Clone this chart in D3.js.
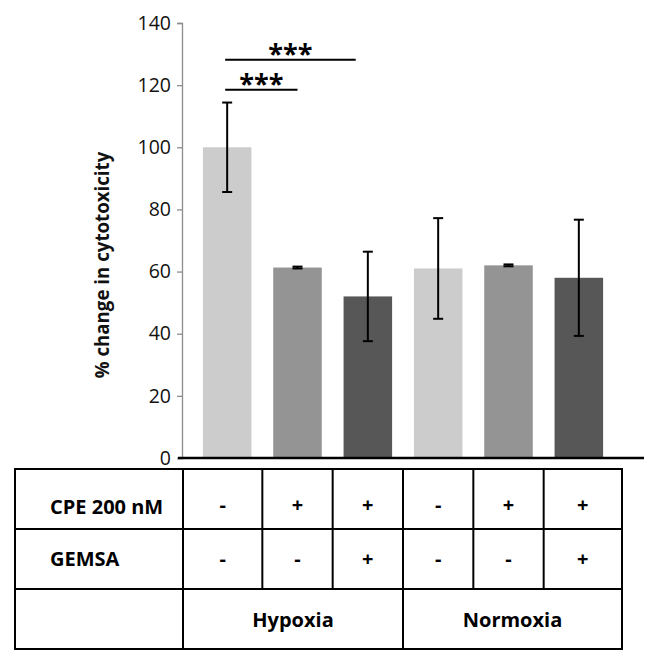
<!DOCTYPE html>
<html>
<head>
<meta charset="utf-8">
<script src="https://cdn.jsdelivr.net/npm/d3@7"></script>
<style>
  html, body { margin: 0; padding: 0; background: #fff; }
  svg { display: block; }
  text { font-family: "Open Sans", "Liberation Sans", sans-serif; }
</style>
</head>
<body>
<div id="chart"></div>
<script>
// ---- data ----
const barIds = ["H-CPE-GEMSA", "H+CPE-GEMSA", "H+CPE+GEMSA", "N-CPE-GEMSA", "N+CPE-GEMSA", "N+CPE+GEMSA"];
const values = [100, 61.3, 52, 61, 62, 58];
const errors = [14.4, 0.3, 14.4, 16.2, 0.3, 18.7];
const barShade = ["light", "mid", "dark", "light", "mid", "dark"];
const cpeRow = ["-", "+", "+", "-", "+", "+"];
const gemsaRow = ["-", "-", "+", "-", "-", "+"];
const rowLabels = ["CPE 200 nM", "GEMSA"];
const groupLabels = ["Hypoxia", "Normoxia"];
const groupSpans = [[0, 2], [3, 5]];
const yTicks = [0, 20, 40, 60, 80, 100, 120, 140];
const yLabel = "% change in cytotoxicity";
const compFrom = [0, 0];
const compTo = [1, 2];
const compLevel = [118.5, 128.2];
const compLabel = ["***", "***"];

// ---- layout ----
const W = 656, H = 658;
const colors = { light: "#cccccc", mid: "#949494", dark: "#575757" };

const svg = d3.select("#chart").append("svg").attr("width", W).attr("height", H);

const y = d3.scaleLinear().domain([0, 140]).range([458, 23]);
const x = d3.scaleBand().domain(barIds).range([192, 614]).paddingInner(0.31).paddingOuter(0.155);
const bw = x.bandwidth();
const cx = i => x(barIds[i]) + bw / 2;

// y axis
const yAxis = d3.axisLeft(y).tickValues(yTicks).tickSize(5).tickPadding(6);
const gy = svg.append("g").attr("transform", "translate(182,0)").call(yAxis);
gy.select(".domain").attr("stroke", "#8c8c8c").attr("stroke-width", 1.3);
gy.selectAll(".tick line").attr("stroke", "#8c8c8c").attr("stroke-width", 1.3);
gy.selectAll(".tick text").attr("font-size", 19.5).attr("fill", "#111")
  .attr("font-family", "'Open Sans', sans-serif");

// y label
svg.append("text")
  .attr("transform", "translate(109,265) rotate(-90)")
  .attr("text-anchor", "middle")
  .attr("font-size", 18.7).attr("font-weight", "bold").attr("fill", "#111")
  .text(yLabel);

// bars
svg.append("g").selectAll("rect").data(values).join("rect")
  .attr("x", (d, i) => x(barIds[i]))
  .attr("width", bw)
  .attr("y", d => y(d))
  .attr("height", d => y(0) - y(d))
  .attr("fill", (d, i) => colors[barShade[i]]);

// error bars
const eg = svg.append("g").attr("stroke", "#000").attr("stroke-width", 2);
values.forEach((v, i) => {
  const c = cx(i), e = errors[i];
  eg.append("line").attr("x1", c).attr("x2", c).attr("y1", y(v + e)).attr("y2", y(v - e));
  eg.append("line").attr("x1", c - 5).attr("x2", c + 5).attr("y1", y(v + e)).attr("y2", y(v + e));
  eg.append("line").attr("x1", c - 5).attr("x2", c + 5).attr("y1", y(v - e)).attr("y2", y(v - e));
});

// x baseline
svg.append("line").attr("x1", 178).attr("x2", 644).attr("y1", y(0)).attr("y2", y(0))
  .attr("stroke", "#000").attr("stroke-width", 2.5);

// significance
const endFrac = [0.5, 0.25];
compFrom.forEach((f, k) => {
  const x1 = cx(f) - 2;
  const x2 = x(barIds[compTo[k]]) + bw * endFrac[k];
  const yy = y(compLevel[k]);
  svg.append("line").attr("x1", x1).attr("x2", x2).attr("y1", yy).attr("y2", yy)
    .attr("stroke", "#000").attr("stroke-width", 2);
  svg.append("text").attr("x", (x1 + x2) / 2).attr("y", yy + 3)
    .attr("text-anchor", "middle").attr("font-size", 27).attr("font-weight", "bold")
    .attr("font-family", "'DejaVu Sans', sans-serif")
    .text(compLabel[k]);
});

// table
const tLeft = 15, tRight = 622, tCol0 = 183;
const rowsY = [469, 529, 589, 649];
const edges = [tCol0];
for (let i = 0; i < barIds.length - 1; i++) edges.push((cx(i) + cx(i + 1)) / 2);
edges.push(tRight);
const tg = svg.append("g").attr("stroke", "#000").attr("fill", "none");
tg.append("rect").attr("x", tLeft).attr("y", rowsY[0]).attr("width", tRight - tLeft)
  .attr("height", rowsY[3] - rowsY[0]).attr("stroke-width", 2);
[rowsY[1], rowsY[2]].forEach(yy => tg.append("line").attr("x1", tLeft).attr("x2", tRight)
  .attr("y1", yy).attr("y2", yy).attr("stroke-width", 2));
tg.append("line").attr("x1", tCol0).attr("x2", tCol0).attr("y1", rowsY[0]).attr("y2", rowsY[3]).attr("stroke-width", 2);
edges.slice(1, -1).forEach((e, i) => {
  const isGroupEdge = (i === 2);
  tg.append("line").attr("x1", e).attr("x2", e).attr("y1", rowsY[0])
    .attr("y2", isGroupEdge ? rowsY[3] : rowsY[2]).attr("stroke-width", 2);
});

const txt = svg.append("g").attr("font-weight", "bold").attr("fill", "#000");
const rowTextShift = [8, 0];
rowLabels.forEach((l, r) => {
  txt.append("text").attr("x", 50).attr("y", (rowsY[r] + rowsY[r + 1]) / 2 + 7 + rowTextShift[r])
    .attr("font-size", 20).text(l);
});
[cpeRow, gemsaRow].forEach((row, r) => {
  row.forEach((s, i) => {
    txt.append("text").attr("x", (edges[i] + edges[i + 1]) / 2)
      .attr("y", (rowsY[r] + rowsY[r + 1]) / 2 + 7 + rowTextShift[r] * 0.75)
      .attr("text-anchor", "middle").attr("font-size", 20).text(s);
  });
});
groupLabels.forEach((g, k) => {
  const a = edges[groupSpans[k][0]], b = edges[groupSpans[k][1] + 1];
  txt.append("text").attr("x", (a + b) / 2).attr("y", (rowsY[2] + rowsY[3]) / 2 + 8)
    .attr("text-anchor", "middle").attr("font-size", 20).text(g);
});
</script>
</body>
</html>
